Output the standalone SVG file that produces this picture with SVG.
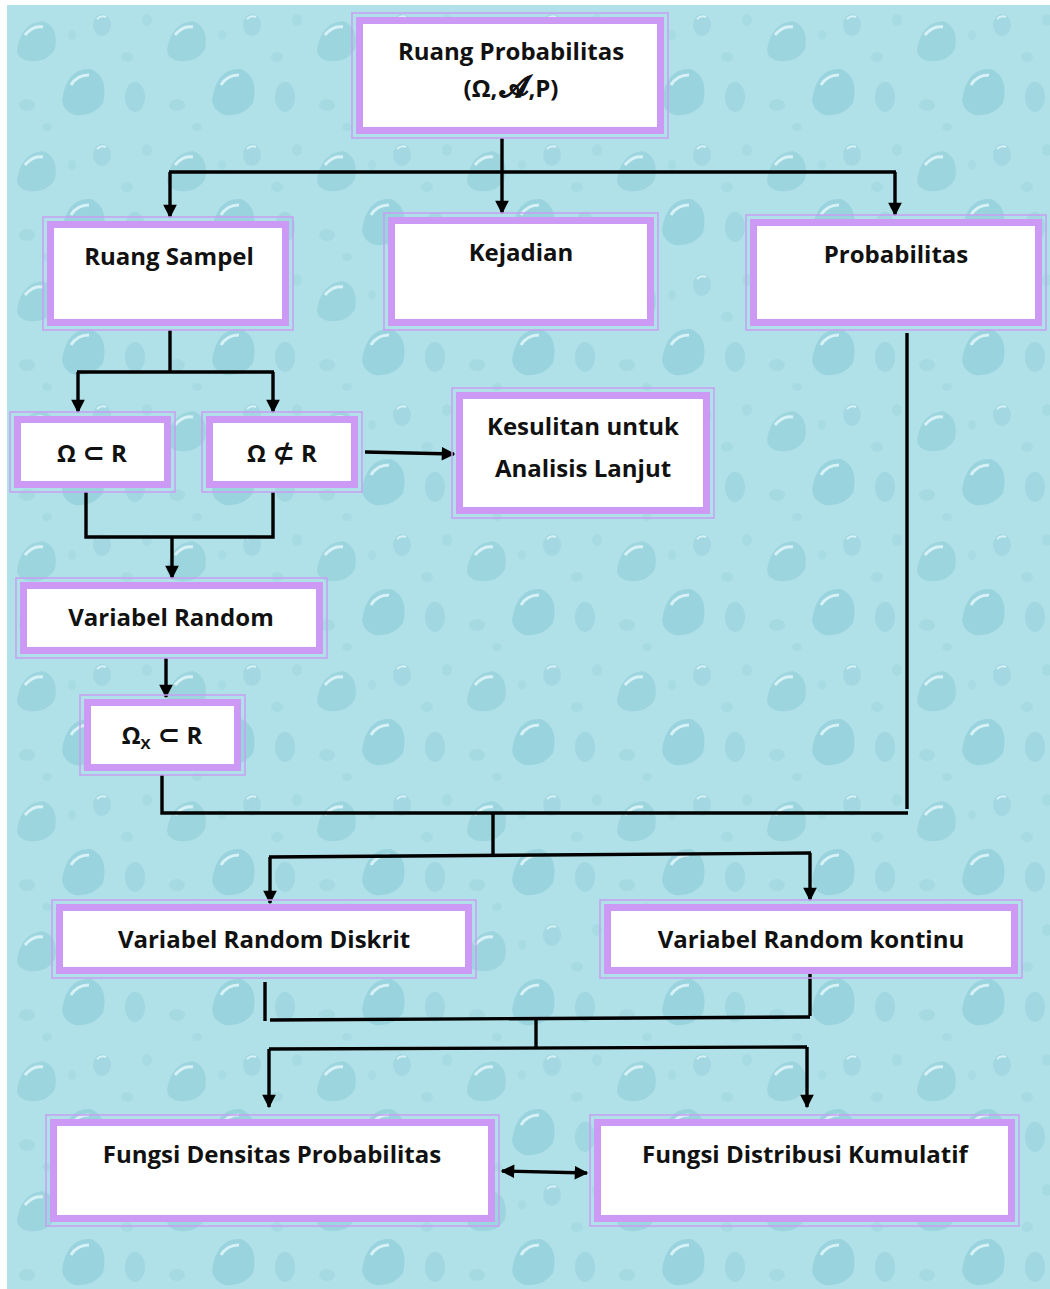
<svg xmlns="http://www.w3.org/2000/svg" width="1050" height="1289" viewBox="0 0 1050 1289">
<defs>
<style>
.bo{fill:none;stroke:#c89ef2;stroke-width:1.5}
.bt{fill:#ffffff;stroke:#cc99f5;stroke-width:7}
.t{font-family:"Open Sans","DejaVu Sans",sans-serif;font-weight:700;font-size:24px;fill:#111;text-anchor:middle}
.c{fill:none;stroke:#000;stroke-width:3.4}
</style>
<marker id="ah" viewBox="0 0 10 10" refX="9" refY="5" markerWidth="4.2" markerHeight="4" orient="auto-start-reverse" markerUnits="strokeWidth">
<path d="M0,0 L10,5 L0,10 z" fill="#000"/>
</marker>
<pattern id="drops" x="7" y="5" width="150" height="130" patternUnits="userSpaceOnUse">
<rect width="150" height="130" fill="#b0e1e9"/>
<path d="M10,45 Q14,18 36,16 Q52,22 48,44 Q40,58 22,56 Q10,54 10,45 z" fill="#9dd5df"/>
<path d="M18,30 Q26,20 36,22" stroke="#d6f2f6" stroke-width="3" fill="none"/>
<ellipse cx="95" cy="20" rx="9" ry="11" fill="#a3d8e2"/>
<path d="M90,14 Q94,10 99,12" stroke="#d6f2f6" stroke-width="2" fill="none"/>
<path d="M55,95 Q60,62 84,64 Q102,72 96,98 Q86,112 68,110 Q56,106 55,95 z" fill="#99d3de"/>
<path d="M64,80 Q70,70 82,70" stroke="#d6f2f6" stroke-width="3" fill="none"/>
<ellipse cx="128" cy="92" rx="10" ry="15" fill="#a0d7e1"/>
<ellipse cx="20" cy="100" rx="8" ry="6" fill="#a6dae3"/>
<ellipse cx="120" cy="52" rx="6" ry="5" fill="#a7dbe4"/>
<ellipse cx="40" cy="122" rx="5" ry="4" fill="#a7dbe4"/>
<ellipse cx="140" cy="15" rx="5" ry="6" fill="#a7dbe4"/>
<ellipse cx="65" cy="30" rx="4" ry="5" fill="#a8dce5"/>
</pattern>
</defs>
<rect x="0" y="0" width="1050" height="1289" fill="#ffffff"/>
<rect x="7" y="5" width="1043" height="1284" fill="url(#drops)"/>

<g id="connectors">
<path class="c" d="M502,138 V172"/>
<path class="c" d="M169,172 H896"/>
<path class="c" d="M170,172 V217" marker-end="url(#ah)"/>
<path class="c" d="M502,172 V213" marker-end="url(#ah)"/>
<path class="c" d="M895,172 V215" marker-end="url(#ah)"/>
<path class="c" d="M170,330 V372"/>
<path class="c" d="M77,372 H274"/>
<path class="c" d="M78,372 V412" marker-end="url(#ah)"/>
<path class="c" d="M273,372 V412" marker-end="url(#ah)"/>
<path class="c" d="M365,452 L454,454" marker-end="url(#ah)"/>
<path class="c" d="M86,492 V537 H273 V492"/>
<path class="c" d="M172,537 V578" marker-end="url(#ah)"/>
<path class="c" d="M166,658 V697" marker-end="url(#ah)"/>
<path class="c" d="M162,775 V813 H908"/>
<path class="c" d="M907,333 V809"/>
<path class="c" d="M493,813 V855"/>
<path class="c" d="M269,857 L811,853"/>
<path class="c" d="M270,857 V903" marker-end="url(#ah)"/>
<path class="c" d="M810,853 V900" marker-end="url(#ah)"/>
<path class="c" d="M265,982 V1021"/>
<path class="c" d="M810,974 V1016"/>
<path class="c" d="M270,1020 L810,1017"/>
<path class="c" d="M536,1019 V1048"/>
<path class="c" d="M269,1049 L807,1047"/>
<path class="c" d="M269,1049 V1107" marker-end="url(#ah)"/>
<path class="c" d="M807,1047 V1107" marker-end="url(#ah)"/>
<path class="c" d="M502,1171 L587,1173" marker-start="url(#ah)" marker-end="url(#ah)"/>
</g>

<g id="n-ruang-probabilitas">
<rect class="bo" x="352" y="13" width="316" height="125"/>
<rect class="bt" x="359.5" y="20.5" width="301" height="110"/>
<text class="t" x="511" y="60">Ruang Probabilitas</text>
<text class="t" x="511" y="97">(Ω,<tspan dx="3" font-family="'DejaVu Sans',serif" font-size="30" stroke="#111" stroke-width="0.8">𝒜</tspan>,P)</text>
</g>

<g id="n-ruang-sampel">
<rect class="bo" x="43" y="217" width="250" height="113"/>
<rect class="bt" x="50.5" y="224.5" width="235" height="98"/>
<text class="t" x="169" y="265">Ruang Sampel</text>
</g>

<g id="n-kejadian">
<rect class="bo" x="384" y="213" width="274" height="117"/>
<rect class="bt" x="391.5" y="220.5" width="259" height="102"/>
<text class="t" x="521" y="261">Kejadian</text>
</g>

<g id="n-probabilitas">
<rect class="bo" x="746" y="215" width="300" height="115"/>
<rect class="bt" x="753.5" y="222.5" width="285" height="100"/>
<text class="t" x="896" y="263">Probabilitas</text>
</g>

<g id="n-omega-sub">
<rect class="bo" x="10" y="412" width="165" height="80"/>
<rect class="bt" x="17.5" y="419.5" width="150" height="65"/>
<text class="t" x="92" y="462">Ω <tspan font-size="27">⊂</tspan> R</text>
</g>

<g id="n-omega-notsub">
<rect class="bo" x="202" y="412" width="160" height="80"/>
<rect class="bt" x="209.5" y="419.5" width="145" height="65"/>
<text class="t" x="282" y="462">Ω <tspan font-size="27">⊄</tspan> R</text>
</g>

<g id="n-kesulitan">
<rect class="bo" x="452" y="388" width="262" height="130"/>
<rect class="bt" x="459.5" y="395.5" width="247" height="115"/>
<text class="t" x="583" y="435">Kesulitan untuk</text>
<text class="t" x="583" y="477">Analisis Lanjut</text>
</g>

<g id="n-variabel-random">
<rect class="bo" x="16" y="578" width="311" height="80"/>
<rect class="bt" x="23.5" y="585.5" width="296" height="65"/>
<text class="t" x="171" y="626">Variabel Random</text>
</g>

<g id="n-omega-x">
<rect class="bo" x="80" y="695" width="165" height="80"/>
<rect class="bt" x="87.5" y="702.5" width="150" height="65"/>
<text class="t" x="162" y="744">Ω<tspan font-size="15" dy="5">X</tspan><tspan dy="-5" font-size="27"> ⊂</tspan> R</text>
</g>

<g id="n-diskrit">
<rect class="bo" x="52" y="900" width="424" height="78"/>
<rect class="bt" x="59.5" y="907.5" width="409" height="63"/>
<text class="t" x="264" y="948">Variabel Random Diskrit</text>
</g>

<g id="n-kontinu">
<rect class="bo" x="600" y="900" width="422" height="78"/>
<rect class="bt" x="607.5" y="907.5" width="407" height="63"/>
<text class="t" x="811" y="948">Variabel Random kontinu</text>
</g>

<g id="n-densitas">
<rect class="bo" x="46" y="1115" width="453" height="111"/>
<rect class="bt" x="53.5" y="1122.5" width="438" height="96"/>
<text class="t" x="272" y="1163">Fungsi Densitas Probabilitas</text>
</g>

<g id="n-distribusi">
<rect class="bo" x="590" y="1115" width="429" height="111"/>
<rect class="bt" x="597.5" y="1122.5" width="414" height="96"/>
<text class="t" x="805" y="1163">Fungsi Distribusi Kumulatif</text>
</g>
</svg>
